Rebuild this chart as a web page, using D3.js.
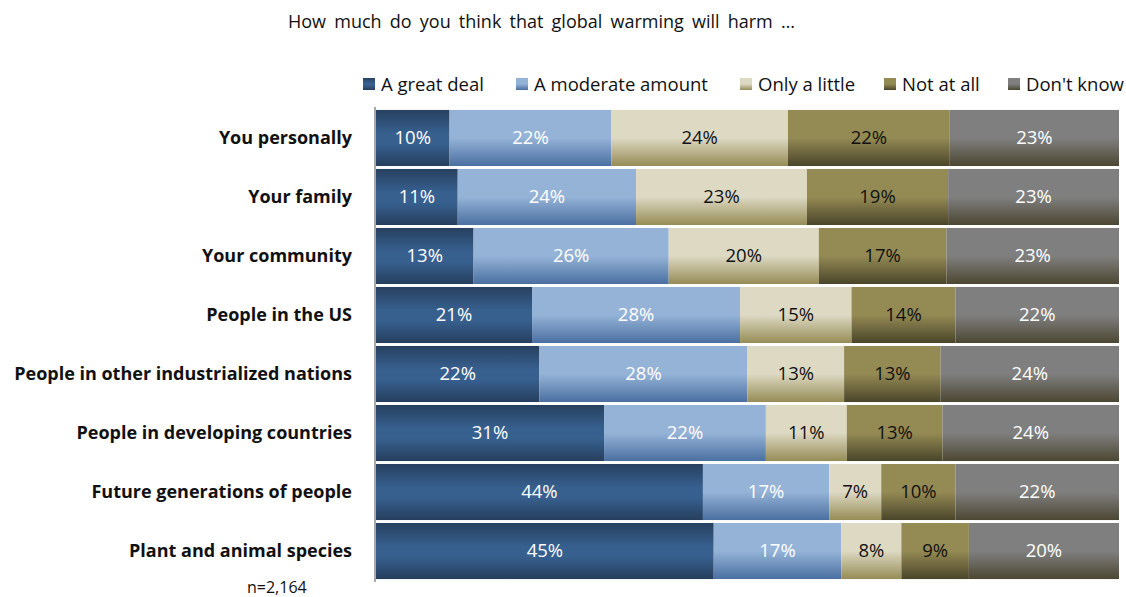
<!DOCTYPE html>
<html>
<head>
<meta charset="utf-8">
<script src="https://cdn.jsdelivr.net/npm/d3@7"></script>
<style>
  html, body { margin: 0; padding: 0; background: #fff; }
  svg { display: block; font-family: "Open Sans", sans-serif; }
</style>
</head>
<body>
<svg id="chart" width="1126" height="597"></svg>
<script>
// Survey items (rows, top to bottom)
const categories = [
  "You personally",
  "Your family",
  "Your community",
  "People in the US",
  "People in other industrialized nations",
  "People in developing countries",
  "Future generations of people",
  "Plant and animal species"
];

// Response options (stack order, left to right)
const responses = ["A great deal", "A moderate amount", "Only a little", "Not at all", "Don't know"];

// Percent values per response, one entry per category
const greatDeal   = [10, 11, 13, 21, 22, 31, 44, 45];
const moderate    = [22, 24, 26, 28, 28, 22, 17, 17];
const onlyLittle  = [24, 23, 20, 15, 13, 11, 7, 8];
const notAtAll    = [22, 19, 17, 14, 13, 13, 10, 9];
const dontKnow    = [23, 23, 23, 22, 24, 24, 22, 20];

const titleText = "How much do you think that global warming will harm \u2026";
const noteText = "n=2,164";

const seriesValues = [greatDeal, moderate, onlyLittle, notAtAll, dontKnow];

// Gradient stops for each response: [offset, colour]
const gradients = [
  [[0, "#27405f"], [0.42, "#37608f"], [0.6, "#37608f"], [1, "#263e5d"]],
  [[0, "#95b3d7"], [0.5, "#95b3d7"], [1, "#4a6fa1"]],
  [[0, "#ddd9c3"], [0.5, "#ddd9c3"], [1, "#968c56"]],
  [[0, "#948a54"], [0.5, "#948a54"], [1, "#4a452a"]],
  [[0, "#7f7f7f"], [0.5, "#7f7f7f"], [1, "#4c4732"]]
];
const labelColors = ["#ffffff", "#ffffff", "#111111", "#111111", "#ffffff"];

const rows = categories.map((c, i) => {
  const r = { category: c };
  responses.forEach((k, j) => r[k] = seriesValues[j][i]);
  return r;
});

const svg = d3.select("#chart");
const defs = svg.append("defs");

gradients.forEach((stops, j) => {
  const g = defs.append("linearGradient")
    .attr("id", "grad" + j)
    .attr("x1", 0).attr("y1", 0).attr("x2", 0).attr("y2", 1);
  stops.forEach(([o, c]) => g.append("stop").attr("offset", o).attr("stop-color", c));
});

const x = d3.scaleLinear().domain([0, 1]).range([376, 1119]);
const y = d3.scaleBand().domain(categories).range([107, 582]).padding(0.05);

// Each row is shown as share of its own total
const stack = d3.stack().keys(responses).offset(d3.stackOffsetExpand);
const stacked = stack(rows);

const layers = svg.append("g").selectAll("g")
  .data(stacked)
  .join("g")
  .attr("fill", (d, j) => `url(#grad${j})`);

layers.selectAll("rect")
  .data(d => d.map(p => ({ p, key: d.key })))
  .join("rect")
  .attr("x", d => x(d.p[0]))
  .attr("y", d => y(d.p.data.category))
  .attr("width", d => x(d.p[1]) - x(d.p[0]))
  .attr("height", y.bandwidth());

// Value labels
stacked.forEach((layer, j) => {
  svg.append("g").selectAll("text")
    .data(layer)
    .join("text")
    .attr("x", d => (x(d[0]) + x(d[1])) / 2)
    .attr("y", d => y(d.data.category) + y.bandwidth() / 2)
    .attr("dy", "0.35em")
    .attr("text-anchor", "middle")
    .attr("font-size", 18.5)
    .attr("fill", labelColors[j])
    .text(d => d.data[layer.key] + "%");
});

// Category axis
const yAxis = d3.axisLeft(y).tickSize(0).tickPadding(23);
const ax = svg.append("g").attr("transform", "translate(375,0)").call(yAxis);
ax.select(".domain").attr("stroke", "#8c8c8c").attr("stroke-width", 1.5)
  .attr("d", "M0,107V582");
ax.selectAll("text")
  .attr("font-family", "'Open Sans', sans-serif")
  .attr("font-size", 18)
  .attr("font-weight", "bold")
  .attr("fill", "#111");

// Legend
const legendX = [363, 516, 740, 884, 1008];
const legend = svg.append("g").selectAll("g")
  .data(responses)
  .join("g")
  .attr("transform", (d, j) => `translate(${legendX[j]},78)`);
legend.append("rect")
  .attr("width", 12).attr("height", 12)
  .attr("fill", (d, j) => `url(#grad${j})`);
legend.append("text")
  .attr("x", 18).attr("y", 7).attr("dy", "0.35em")
  .attr("font-size", 18.5).attr("fill", "#111")
  .text(d => d);

// Title and sample size
svg.append("text")
  .attr("x", 288).attr("y", 22).attr("dy", "0.35em")
  .attr("font-size", 18).attr("fill", "#111")
  .attr("word-spacing", 3.5)
  .text(titleText);
svg.append("text")
  .attr("x", 247).attr("y", 587).attr("dy", "0.35em")
  .attr("font-size", 16).attr("fill", "#111")
  .text(noteText);
</script>
</body>
</html>
